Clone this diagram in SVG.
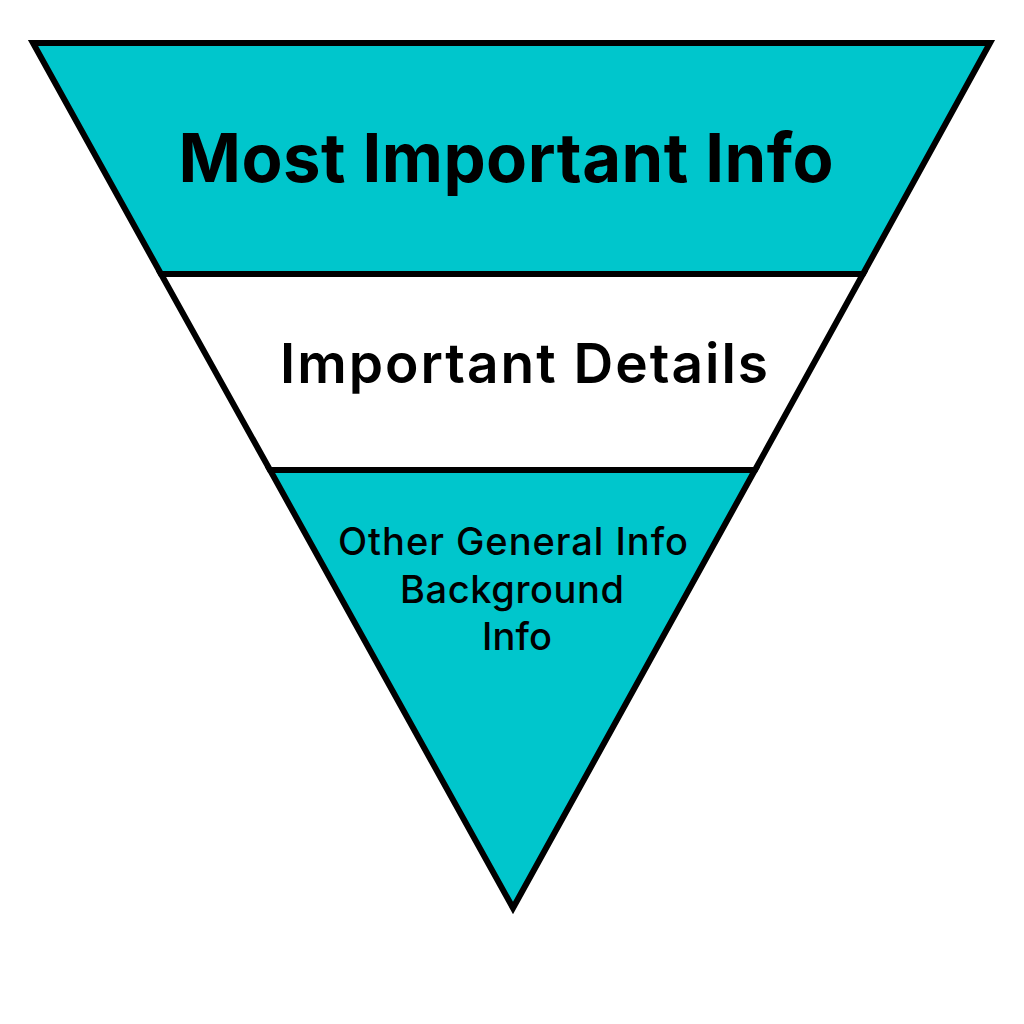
<svg xmlns="http://www.w3.org/2000/svg" width="1024" height="1024" viewBox="0 0 1024 1024">
<style>
.band{stroke:#000;stroke-width:6;stroke-linejoin:miter}
.t{font-family:Inter,"Liberation Sans",sans-serif;fill:#000;text-anchor:middle}
</style>
<rect width="1024" height="1024" fill="#fff"/>
<g id="top">
<polygon class="band" fill="#00C6CC" points="33,43 990,43 863,274 161,274"/>
<text class="t" x="506" y="182" font-size="67" font-weight="700" textLength="655" lengthAdjust="spacing">Most Important Info</text>
</g>
<g id="middle">
<polygon class="band" fill="#fff" points="161,274 863,274 755,470 270,470"/>
<text class="t" x="524" y="383" font-size="55" font-weight="600" textLength="488" lengthAdjust="spacing">Important Details</text>
</g>
<g id="bottom">
<polygon class="band" fill="#00C6CC" points="270,470 755,470 513,908"/>
<text class="t" x="513" y="555" font-size="38" font-weight="500" textLength="350" lengthAdjust="spacing">Other General Info</text>
<text class="t" x="512" y="603" font-size="38" font-weight="500" textLength="224" lengthAdjust="spacing">Background</text>
<text class="t" x="517" y="650" font-size="38" font-weight="500" textLength="70" lengthAdjust="spacing">Info</text>
</g>
</svg>
